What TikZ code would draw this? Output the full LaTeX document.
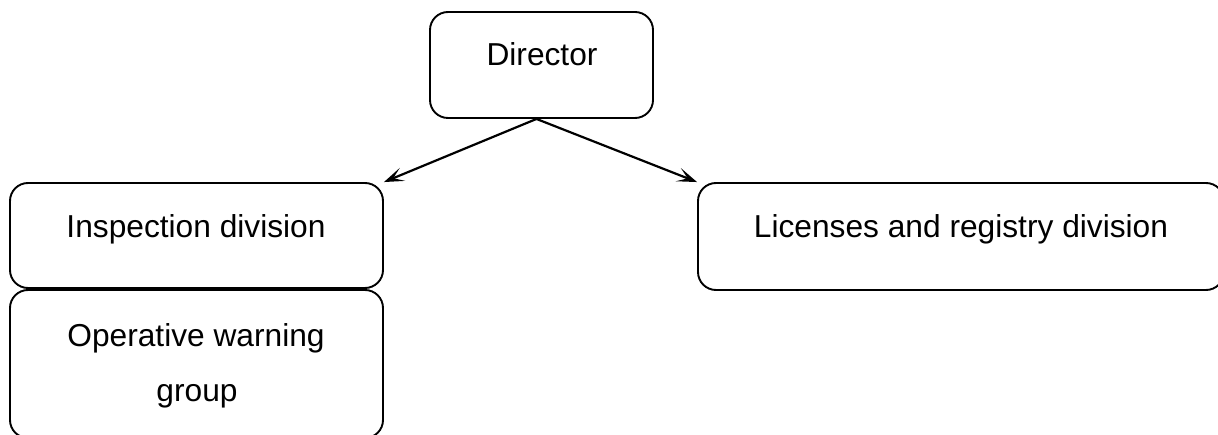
\documentclass[tikz,border=0pt]{standalone}
\usepackage{fontspec}
\setmainfont{Liberation Sans}
\usetikzlibrary{arrows.meta}
\begin{document}
\begin{tikzpicture}[x=1pt,y=-1pt,
  box/.style={draw, line width=1.9pt, rounded corners=18pt, inner sep=0pt},
  lbl/.style={anchor=base, inner sep=0pt, font=\fontsize{31.7}{46}\selectfont},
  conn/.style={line width=2.2pt, -{Stealth[length=20pt,width=14pt,inset=10pt]}}]
\useasboundingbox (0,0) rectangle (1218,435);
\clip (0,0) rectangle (1218,435);
\node[box, minimum width=223pt, minimum height=106pt] (dir) at (541.5,65) {};
\node[box, minimum width=373pt, minimum height=105pt] (insp) at (196.5,235.5) {};
\node[box, minimum width=373pt, minimum height=148pt] (oper) at (196.5,364) {};
\node[box, minimum width=526pt, minimum height=107pt] (lic) at (961,236.5) {};
\node[lbl] (tdir) at (542,66) {Director};
\node[lbl] (tinsp) at (196,238) {Inspection division};
\node[lbl] (toper1) at (196,347) {Operative warning};
\node[lbl] (toper2) at (197,402) {group};
\node[lbl] (tlic) at (961,238) {Licenses and registry division};
\coordinate (src) at ([xshift=-5pt]dir.south);
\draw[conn] (src) -- (insp.north east);
\draw[conn] (src) -- (lic.north west);
\end{tikzpicture}
\end{document}
